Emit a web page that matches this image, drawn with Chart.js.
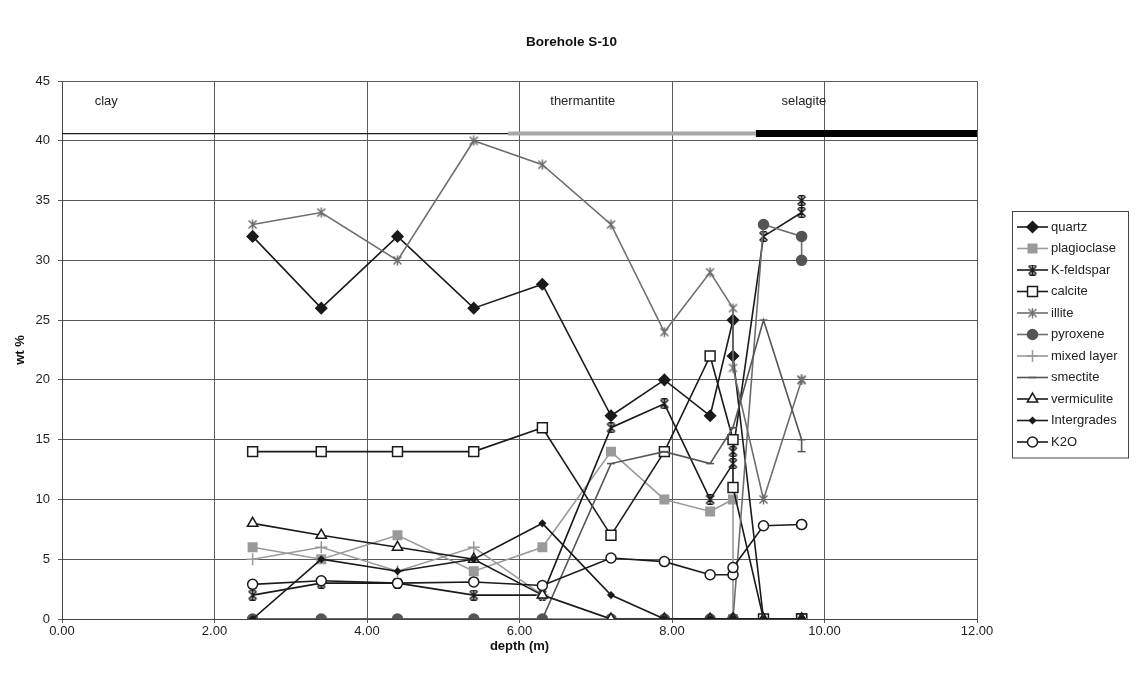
<!DOCTYPE html>
<html>
<head>
<meta charset="utf-8">
<title>Borehole S-10</title>
<script src="https://cdn.jsdelivr.net/npm/chart.js@4.4.1/dist/chart.umd.min.js"></script>
<style>
  html, body { margin: 0; padding: 0; background: #fff; }
</style>
</head>
<body>
<canvas id="boreholeChart" width="1143" height="677"></canvas>
<script>
// sample depths (m) - two samples at 8.8 and at 9.7
const depths = [2.5, 3.4, 4.4, 5.4, 6.3, 7.2, 7.9, 8.5, 8.8, 8.8, 9.2, 9.7, 9.7];

// wt % per mineral
const quartz      = [32, 26, 32, 26, 28, 17, 20, 17, 25, 22, 0, 0, 0];
const plagioclase = [6, 5, 7, 4, 6, 14, 10, 9, 10, 0, 0, 0, 0];
const kFeldspar   = [2, 3, 3, 2, 2, 16, 18, 10, 13, 14, 32, 34, 35];
const calcite     = [14, 14, 14, 14, 16, 7, 14, 22, 15, 11, 0, 0, 0];
const illite      = [33, 34, 30, 40, 38, 33, 24, 29, 26, 21, 10, 20, 20];
const pyroxene    = [0, 0, 0, 0, 0, 0, 0, 0, 0, 0, 33, 32, 30];
const mixedLayer  = [5, 6, 4, 6, 2, 0, 0, 0, 0, 0, 0, 0, 0];
const smectite    = [0, 0, 0, 0, 0, 13, 14, 13, 16, 16, 25, 15, 14];
const vermiculite = [8, 7, 6, 5, 2, 0, 0, 0, 0, 0, 0, 0, 0];
const intergrades = [0, 5, 4, 5, 8, 2, 0, 0, 0, 0, 0, 0, 0];
const k2o         = [2.9, 3.2, 3.0, 3.1, 2.8, 5.1, 4.8, 3.7, 3.7, 4.3, 7.8, 7.9, 7.9];

// lithology zones along the top of the log
const zoneNames = ['clay', 'thermantite', 'selagite'];
const zoneLabelDepth = [0.58, 6.83, 9.73];
const zoneLabelLevel = 43.3;
const zoneStart = [0, 5.85, 9.1];
const zoneEnd = [5.85, 9.1, 12];
const zoneLevel = 40.6;

const chartTitle = 'Borehole S-10';

const FONT = '"Liberation Sans", Arial, sans-serif';
const BLACK = '#1a1a1a';

// asterisk style markers (x + vertical bar), optional caps
function starMarker(color, size, caps) {
    const c = document.createElement('canvas');
    c.width = size;
    c.height = size;
    const g = c.getContext('2d');
    g.strokeStyle = color;
    g.lineWidth = 1.5;
    const m = 1.5;
    g.beginPath();
    g.moveTo(m, m); g.lineTo(size - m, size - m);
    g.moveTo(size - m, m); g.lineTo(m, size - m);
    g.moveTo(size / 2, 0.5); g.lineTo(size / 2, size - 0.5);
    if (caps) {
        g.moveTo(size / 2 - 3, 0.75); g.lineTo(size / 2 + 3, 0.75);
        g.moveTo(size / 2 - 3, size - 0.75); g.lineTo(size / 2 + 3, size - 0.75);
    }
    g.stroke();
    return c;
}

const series = [
    { label: 'quartz', values: quartz, line: BLACK, style: 'rectRot', radius: 5.5, fill: BLACK, border: BLACK },
    { label: 'plagioclase', values: plagioclase, line: '#9a9a9a', style: 'rect', radius: 6, fill: '#9a9a9a', border: '#9a9a9a' },
    { label: 'K-feldspar', values: kFeldspar, line: BLACK, style: starMarker(BLACK, 11, true), radius: 5, fill: BLACK, border: BLACK },
    { label: 'calcite', values: calcite, line: BLACK, style: 'rect', radius: 7, fill: '#fff', border: BLACK },
    { label: 'illite', values: illite, line: '#6e6e6e', style: starMarker('#6e6e6e', 11, false), radius: 5, fill: '#6e6e6e', border: '#6e6e6e' },
    { label: 'pyroxene', values: pyroxene, line: '#6e6e6e', style: 'circle', radius: 5, fill: '#555', border: '#555' },
    { label: 'mixed layer', values: mixedLayer, line: '#9a9a9a', style: 'cross', radius: 6, fill: '#9a9a9a', border: '#9a9a9a' },
    { label: 'smectite', values: smectite, line: '#555', style: 'line', radius: 4, fill: '#555', border: '#555' },
    { label: 'vermiculite', values: vermiculite, line: BLACK, style: 'triangle', radius: 6, fill: '#fff', border: BLACK },
    { label: 'Intergrades', values: intergrades, line: BLACK, style: 'rectRot', radius: 3, fill: BLACK, border: BLACK },
    { label: 'K2O', values: k2o, line: BLACK, style: 'circle', radius: 5, fill: '#fff', border: BLACK }
];

const datasets = series.map((s, i) => ({
    label: s.label,
    data: depths.map((d, j) => ({ x: d, y: s.values[j] })),
    showLine: true,
    borderColor: s.line,
    borderWidth: 1.6,
    pointStyle: s.style,
    pointRadius: s.radius,
    pointBackgroundColor: s.fill,
    pointBorderColor: s.border,
    pointBorderWidth: 1.5,
    order: series.length - i + 1,
    isMineral: true
}));

// lithology bars
const zoneLines = [
    { color: BLACK, width: 1.2 },
    { color: '#a8a8a8', width: 4 },
    { color: '#000', width: 7 }
];
zoneNames.forEach((name, i) => {
    datasets.push({
        label: name,
        data: [{ x: zoneStart[i], y: zoneLevel }, { x: zoneEnd[i], y: zoneLevel }],
        showLine: true,
        borderColor: zoneLines[i].color,
        borderWidth: zoneLines[i].width,
        borderCapStyle: 'butt',
        pointRadius: 0,
        order: 0
    });
});

const zoneLabels = {
    id: 'zoneLabels',
    afterDatasetsDraw(chart) {
        const { ctx, scales: { x, y } } = chart;
        ctx.save();
        ctx.font = '13px ' + FONT;
        ctx.fillStyle = '#222';
        ctx.textAlign = 'center';
        ctx.textBaseline = 'middle';
        zoneNames.forEach((name, i) => {
            ctx.fillText(name, x.getPixelForValue(zoneLabelDepth[i]), y.getPixelForValue(zoneLabelLevel));
        });
        ctx.restore();
    }
};

// title centred on the whole page, not on the plot
const pageTitle = {
    id: 'pageTitle',
    afterDraw(chart) {
        const ctx = chart.ctx;
        ctx.save();
        ctx.font = 'bold 13.5px ' + FONT;
        ctx.fillStyle = '#111';
        ctx.textAlign = 'center';
        ctx.textBaseline = 'middle';
        ctx.fillText(chartTitle, chart.width / 2, 42);
        ctx.restore();
    }
};

// excel style legend: line with marker, in a box
const boxLegend = {
    id: 'boxLegend',
    afterDraw(chart) {
        const ctx = chart.ctx;
        const left = 1012, top = 211, w = 116, step = 21.5;
        const items = chart.data.datasets.filter(d => d.isMineral);
        ctx.save();
        ctx.strokeStyle = '#444';
        ctx.lineWidth = 1;
        ctx.strokeRect(left + 0.5, top + 0.5, w, items.length * step + 10);
        items.forEach((d, i) => {
            const y = top + 16 + i * step;
            ctx.strokeStyle = d.borderColor;
            ctx.lineWidth = 1.6;
            ctx.beginPath();
            ctx.moveTo(left + 5, y);
            ctx.lineTo(left + 36, y);
            ctx.stroke();
            ctx.fillStyle = d.pointBackgroundColor;
            ctx.strokeStyle = d.pointBorderColor;
            ctx.lineWidth = d.pointBorderWidth;
            Chart.helpers.drawPoint(ctx, {
                pointStyle: d.pointStyle,
                radius: d.pointRadius,
                rotation: 0,
                borderWidth: d.pointBorderWidth
            }, left + 20.5, y);
            ctx.fillStyle = '#222';
            ctx.font = '13px ' + FONT;
            ctx.textAlign = 'left';
            ctx.textBaseline = 'middle';
            ctx.fillText(d.label, left + 39, y);
        });
        ctx.restore();
    }
};

const ctxBore = document.getElementById('boreholeChart');
new Chart(ctxBore, {
    type: 'scatter',
    data: { datasets: datasets },
    options: {
        responsive: false,
        animation: false,
        layout: { padding: { left: 0, right: 166, top: 81, bottom: 0 } },
        plugins: {
            legend: { display: false },
            tooltip: { enabled: false },
            title: { display: false }
        },
        scales: {
            x: {
                type: 'linear',
                min: 0,
                max: 12,
                ticks: {
                    stepSize: 2,
                    callback: v => v.toFixed(2),
                    color: '#222',
                    font: { family: FONT, size: 13 },
                    padding: 1,
                    maxRotation: 0
                },
                grid: { color: '#5a5a5a', tickLength: 4 },
                border: { color: '#444' },
                title: {
                    display: true,
                    text: 'depth (m)',
                    color: '#111',
                    font: { family: FONT, size: 13, weight: 'bold' },
                    padding: { top: 0, bottom: 23 }
                },
                afterFit: s => { s.height = 58; }
            },
            y: {
                min: 0,
                max: 45,
                ticks: {
                    stepSize: 5,
                    color: '#222',
                    font: { family: FONT, size: 13 },
                    padding: 8
                },
                grid: { color: '#5a5a5a', tickLength: 4 },
                border: { color: '#444' },
                title: {
                    display: true,
                    text: 'wt %',
                    color: '#111',
                    font: { family: FONT, size: 13, weight: 'bold' },
                    padding: { top: 13, bottom: 0 }
                },
                afterFit: s => { s.width = 62; }
            }
        }
    },
    plugins: [zoneLabels, pageTitle, boxLegend]
});
</script>
</body>
</html>
